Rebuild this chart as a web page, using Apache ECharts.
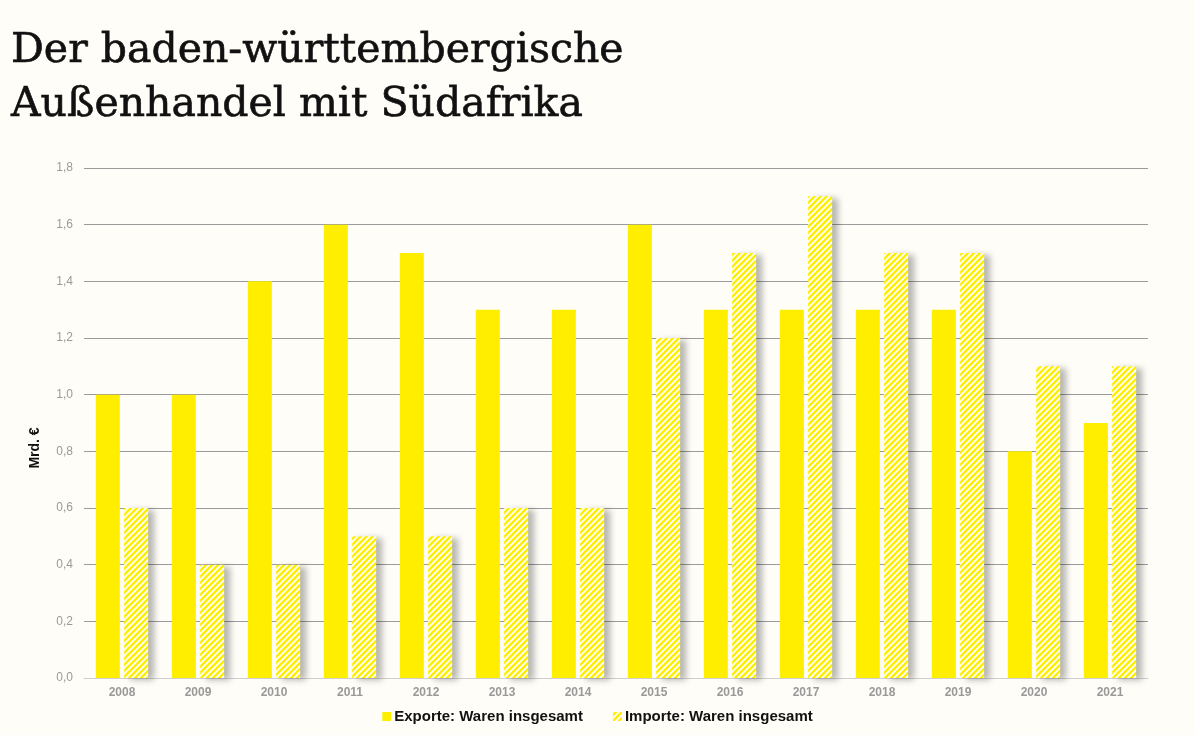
<!DOCTYPE html>
<html>
<head>
<meta charset="utf-8">
<script src="https://cdn.jsdelivr.net/npm/echarts@6/dist/echarts.min.js"></script>
<style>
html,body{margin:0;padding:0;background:#FFFDF7;}
#c{width:1195px;height:735px;}
</style>
</head>
<body>
<div id="c"></div>
<script>
const years = ['2008','2009','2010','2011','2012','2013','2014','2015','2016','2017','2018','2019','2020','2021'];
const exporte = [1.0, 1.0, 1.4, 1.6, 1.5, 1.3, 1.3, 1.6, 1.3, 1.3, 1.3, 1.3, 0.8, 0.9];
const importe = [0.6, 0.4, 0.4, 0.5, 0.5, 0.6, 0.6, 1.2, 1.5, 1.7, 1.5, 1.5, 1.1, 1.1];
const seriesNames = ['Exporte: Waren insgesamt', 'Importe: Waren insgesamt'];
const titleText = 'Der baden-württembergische\nAußenhandel mit Südafrika';
const yAxisName = 'Mrd. €';

const YELLOW = '#FFEE00';
function hatch() {
  const s = 6;
  const cv = document.createElement('canvas');
  cv.width = s; cv.height = s;
  const ctx = cv.getContext('2d');
  ctx.fillStyle = YELLOW;
  ctx.fillRect(0, 0, s, s);
  ctx.strokeStyle = '#FFFFFF';
  ctx.lineWidth = 1.8;
  ctx.beginPath();
  ctx.moveTo(-1, s + 1); ctx.lineTo(s + 1, -1);
  ctx.moveTo(-1, 1); ctx.lineTo(1, -1);
  ctx.moveTo(s - 1, s + 1); ctx.lineTo(s + 1, s - 1);
  ctx.stroke();
  return cv;
}

const chart = echarts.init(document.getElementById('c'), null, {renderer: 'canvas'});
chart.setOption({
  backgroundColor: '#FFFDF7',
  animation: false,
  title: {
    text: titleText,
    left: 6,
    top: 19,
    textStyle: {
      fontFamily: 'DejaVu Serif',
      fontSize: 41,
      fontWeight: 'normal',
      color: '#111',
      lineHeight: 54,
      textBorderColor: '#111',
      textBorderWidth: 0.6
    }
  },
  graphic: [{
    type: 'text',
    x: 35,
    y: 448,
    rotation: Math.PI / 2,
    style: {
      text: yAxisName,
      fontFamily: 'Liberation Sans',
      fontSize: 14,
      fontWeight: 'bold',
      fill: '#111',
      align: 'center',
      verticalAlign: 'middle'
    }
  }],
  legend: {
    bottom: 6,
    left: 'center',
    itemWidth: 9,
    itemHeight: 9,
    itemGap: 30,
    icon: 'rect',
    textStyle: {fontFamily: 'Liberation Sans', fontSize: 15, fontWeight: 'bold', color: '#111', padding: [0, 0, 0, -2]},
    data: seriesNames
  },
  grid: {left: 84, right: 47, top: 168, bottom: 57},
  xAxis: {
    type: 'category',
    data: years,
    axisTick: {show: false},
    axisLine: {lineStyle: {color: '#cfcfcf', width: 1}},
    axisLabel: {fontFamily: 'Liberation Sans', fontSize: 12, fontWeight: 'bold', color: '#999', margin: 9}
  },
  yAxis: {
    type: 'value',
    min: 0,
    max: 1.8,
    interval: 0.2,
    axisLine: {show: false},
    axisTick: {show: false},
    splitLine: {lineStyle: {color: '#9a9a9a', width: 1}},
    axisLabel: {
      fontFamily: 'Liberation Sans', fontSize: 12, color: '#9a9a9a', margin: 11,
      formatter: v => v.toFixed(1).replace('.', ',')
    }
  },
  series: [
    {
      name: seriesNames[0],
      type: 'bar',
      data: exporte,
      barWidth: 24,
      barGap: '18%',
      itemStyle: {color: YELLOW}
    },
    {
      name: seriesNames[1],
      type: 'bar',
      data: importe,
      barWidth: 24,
      itemStyle: {
        color: {image: hatch(), repeat: 'repeat'},
        shadowColor: 'rgba(0,0,0,0.28)',
        shadowBlur: 6,
        shadowOffsetX: 6,
        shadowOffsetY: 2
      }
    }
  ]
});
</script>
</body>
</html>
